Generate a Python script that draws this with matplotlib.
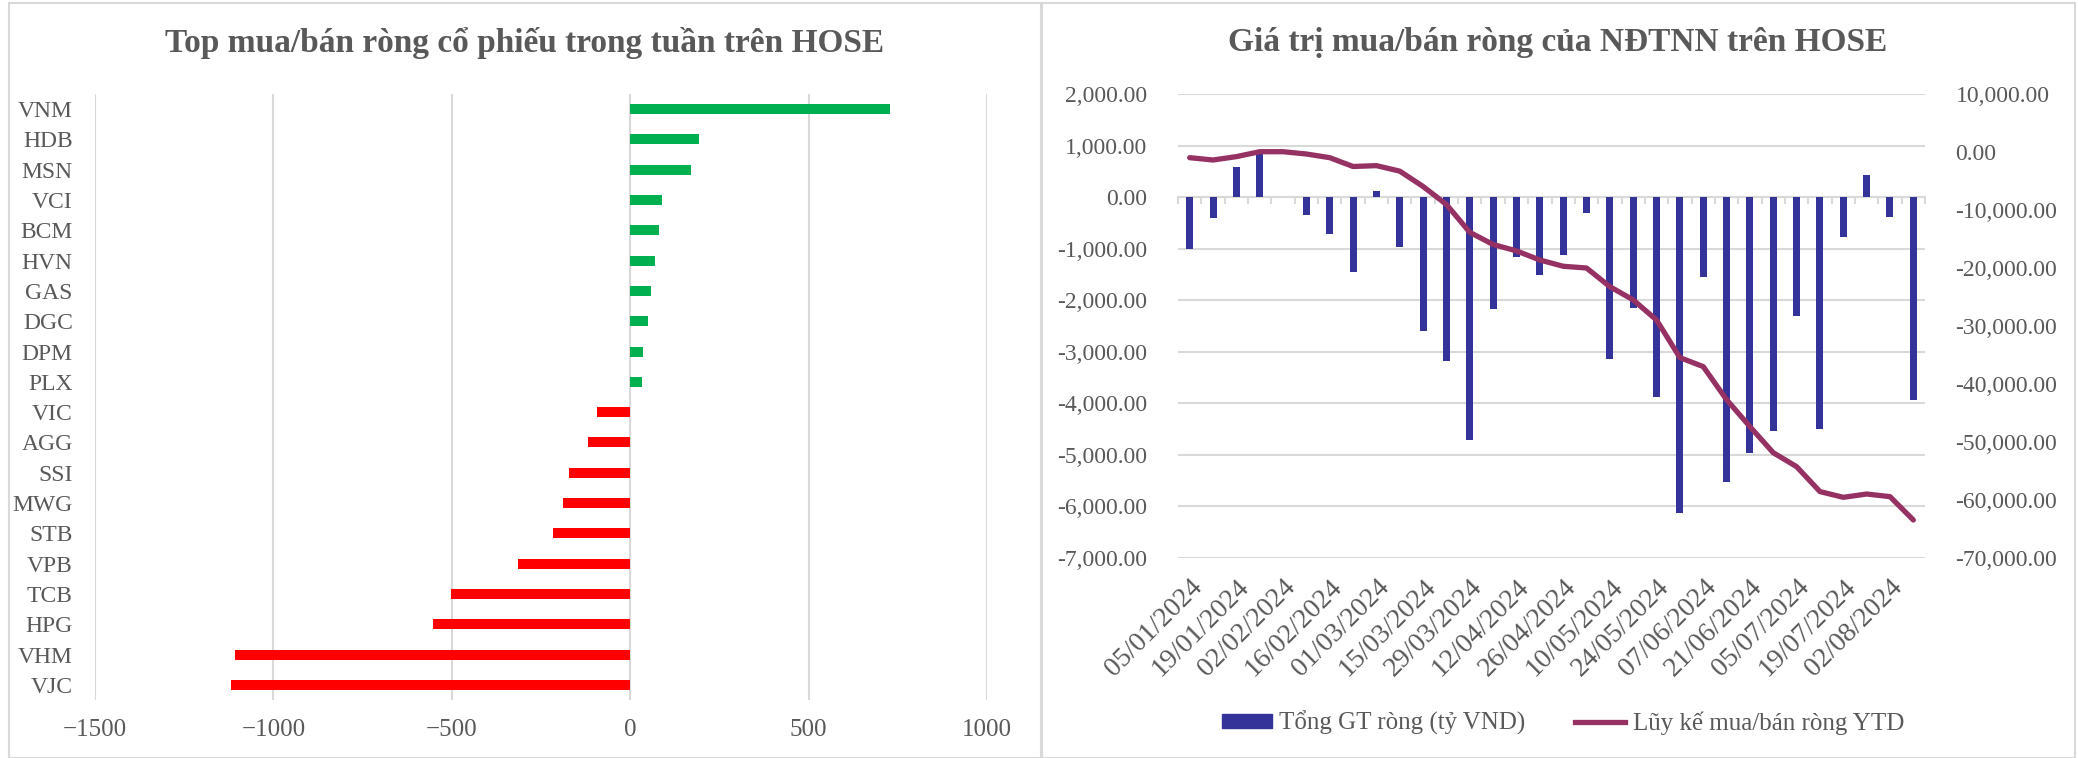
import numpy as np
import matplotlib.pyplot as plt
from matplotlib.patches import Rectangle, Patch
from matplotlib.lines import Line2D
from matplotlib.ticker import FuncFormatter

plt.rcParams['font.family'] = ['Liberation Serif', 'DejaVu Serif']

# Left chart: top net buy/sell stocks of the week (ty VND)
tickers = ["VNM", "HDB", "MSN", "VCI", "BCM", "HVN", "GAS", "DGC", "DPM", "PLX",
           "VIC", "AGG", "SSI", "MWG", "STB", "VPB", "TCB", "HPG", "VHM", "VJC"]
net_values = [728, 194, 170, 90, 80, 69, 58, 50, 35, 32,
              -93, -119, -172, -187, -216, -315, -502, -554, -1108, -1119]

# Right chart: weekly foreign net value and cumulative YTD
weeks = ["05/01/2024", "12/01/2024", "19/01/2024", "26/01/2024", "02/02/2024",
         "09/02/2024", "16/02/2024", "23/02/2024", "01/03/2024", "08/03/2024",
         "15/03/2024", "22/03/2024", "29/03/2024", "05/04/2024", "12/04/2024",
         "19/04/2024", "26/04/2024", "03/05/2024", "10/05/2024", "17/05/2024",
         "24/05/2024", "31/05/2024", "07/06/2024", "14/06/2024", "21/06/2024",
         "28/06/2024", "05/07/2024", "12/07/2024", "19/07/2024", "26/07/2024",
         "02/08/2024", "09/08/2024"]
weekly_net = [-1000, -400, 590, 840, 0, -355, -725, -1455, 115, -970,
              -2590, -3180, -4715, -2170, -1158, -1517, -1121, -305, -3137, -2152,
              -3876, -6118, -1555, -5528, -4964, -4543, -2307, -4498, -771, 421,
              -395, -3940]
ytd_net = [-980, -1380, -800, 50, 50, -345, -980, -2500, -2350, -3300,
           -5950, -9050, -13850, -15950, -17050, -18620, -19700, -20000, -23220, -25500,
           -28970, -35450, -37000, -42700, -47350, -51850, -54250, -58550, -59540, -58970,
           -59420, -63450]

W, H = 2078, 758
TXT = "#595959"
GRID = "#d9d9d9"

fig = plt.figure(figsize=(W / 100, H / 100), dpi=100)

# panel borders
for x0, x1 in [(9, 1041), (1042, 2075)]:
    fig.add_artist(Rectangle((x0 / W, 0.0), (x1 - x0) / W, (H - 3) / H,
                             transform=fig.transFigure, fill=False, ec=GRID, lw=1.5))

# ---------------- left chart ----------------
ax1 = fig.add_axes([95 / W, (H - 700) / H, 892 / W, 606 / H])
ypos = np.arange(len(tickers))
colors = ["#00b050" if v >= 0 else "#ff0000" for v in net_values]
ax1.barh(ypos, net_values, height=0.33, color=colors, zorder=3)
ax1.set_ylim(len(tickers) - 0.5, -0.5)
ax1.set_xlim(-1500, 1000)
ax1.set_xticks(np.arange(-1500, 1001, 500))
ax1.set_yticks(ypos)
ax1.set_yticklabels(tickers)
ax1.grid(axis="x", color=GRID, lw=1.5, zorder=0)
for s in ax1.spines.values():
    s.set_visible(False)
ax1.tick_params(length=0, colors=TXT, labelsize=17)
ax1.tick_params(axis="x", pad=14, labelsize=18)
ax1.tick_params(axis="y", pad=16)
fig.text(525 / W, 1 - 43 / H, "Top mua/bán ròng cổ phiếu trong tuần trên HOSE",
         ha="center", va="center", fontsize=24, fontweight="bold", color=TXT)

# ---------------- right chart ----------------
ax2 = fig.add_axes([1178 / W, (H - 558) / H, 747 / W, 464 / H])
x = np.arange(len(weeks))
ax2.bar(x, weekly_net, width=0.3, color="#333399", zorder=3)
ax2.set_xlim(-0.5, len(weeks) - 0.5)
ax2.set_ylim(-7000, 2000)
ax2.set_yticks(np.arange(-7000, 2001, 1000))
ax2.yaxis.set_major_formatter(FuncFormatter(lambda v, p: f"{v:,.2f}"))
ax2.grid(axis="y", color=GRID, lw=1.5, zorder=0)
ax2.set_xticks(x[::2])
ax2.set_xticklabels(weeks[::2], rotation=45, ha="right", va="top",
                    rotation_mode="anchor")
for s in ax2.spines.values():
    s.set_visible(False)
ax2.tick_params(length=0, colors=TXT, labelsize=17)
ax2.tick_params(axis="y", pad=22)
ax2.tick_params(axis="x", pad=12, labelsize=20)

# category axis crossing at zero with boundary ticks
zero_frac = 7000 / 9000
sec = ax2.secondary_xaxis(zero_frac)
sec.set_xticks(np.arange(-0.5, len(weeks), 1))
sec.set_xticklabels([])
sec.tick_params(direction="out", length=5, color=GRID, width=1.5)
for s in sec.spines.values():
    s.set_color(GRID)
    s.set_linewidth(1.5)
sec.xaxis.set_ticks_position("bottom")

ax3 = ax2.twinx()
ax3.plot(x, ytd_net, color="#953163", lw=3.8, solid_capstyle="round", zorder=4)
ax3.set_ylim(-70000, 10000)
ax3.set_yticks(np.arange(-70000, 10001, 10000))
ax3.yaxis.set_major_formatter(FuncFormatter(lambda v, p: f"{v:,.2f}"))
for s in ax3.spines.values():
    s.set_visible(False)
ax3.tick_params(length=0, colors=TXT, labelsize=17, pad=22)

fig.text(1558 / W, 1 - 43 / H, "Giá trị mua/bán ròng của NĐTNN trên HOSE",
         ha="center", va="center", fontsize=24, fontweight="bold", color=TXT)

handles = [Patch(color="#333399"), Line2D([], [], color="#953163", lw=3.8)]
fig.legend(handles, ["Tổng GT ròng (tỷ VND)", "Lũy kế mua/bán ròng YTD"],
           loc="center", bbox_to_anchor=(1563 / W, 35 / H), ncol=2, frameon=False,
           fontsize=18, labelcolor=TXT, handlelength=2.0, handleheight=0.5,
           handletextpad=0.3, columnspacing=2.0)

fig.savefig("out.png", dpi=100)
